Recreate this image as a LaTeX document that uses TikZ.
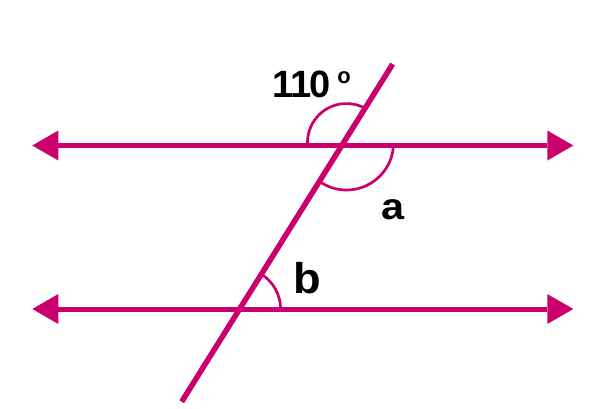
\documentclass[tikz,border=0pt]{standalone}
\usepackage{fontspec}
\setmainfont{Liberation Sans}
\usetikzlibrary{arrows.meta}
\definecolor{mag}{RGB}{204,0,108}
\tikzset{
  parline/.style={draw=mag, line width=5pt, {Triangle[length=26pt,width=30pt,line width=0pt]}-{Triangle[length=26pt,width=30pt,line width=0pt]}},
  transline/.style={draw=mag, line width=5.5pt},
  anglearc/.style={draw=mag, line width=2.7pt},
  lbl/.style={inner sep=0pt, anchor=base, text=black, font=\bfseries}
}
\begin{document}
\begin{tikzpicture}[x=1pt,y=-1pt]
\useasboundingbox (0,0) rectangle (593,408);
% endpoints
\coordinate (L1) at (32.3,145.5);
\coordinate (R1) at (573.3,145.5);
\coordinate (L2) at (32.3,309);
\coordinate (R2) at (573.3,309);
\coordinate (T) at (392.7,64);
\coordinate (B) at (181.7,401.7);
\coordinate (C1) at (346.5,142.5);
\coordinate (C2) at (346.5,143);
\coordinate (X2) at (239.6,309);
% lines
\draw[parline] (L1) -- (R1);
\draw[parline] (L2) -- (R2);
\draw[transline] (T) -- (B);
% angle arcs
\draw[anglearc] (C1) ++(175.6:39) arc[start angle=175.6, end angle=298.5, radius=39];
\draw[anglearc] (C2) ++(3:47) arc[start angle=3, end angle=125.2, radius=47];
\draw[anglearc] (X2) ++(0:41) arc[start angle=0, end angle=-58, radius=41];
% labels
\node[lbl, font=\bfseries\fontsize{38}{40}\selectfont] (t110) at (301.5,97.3) {1\kern-2.5pt1\kern-2.5pt0};
\node[lbl, font=\bfseries\fontsize{22}{24}\selectfont] (tdeg) at (344.2,83.3) {o};
\node[lbl, font=\bfseries\fontsize{37}{40}\selectfont] (ta) at (393,219.5) {\scalebox{1.12}[1]{a}};
\node[lbl, font=\bfseries\fontsize{43}{44}\selectfont] (tb) at (307.5,293.8) {\scalebox{1.05}[1]{b}};
\end{tikzpicture}
\end{document}
